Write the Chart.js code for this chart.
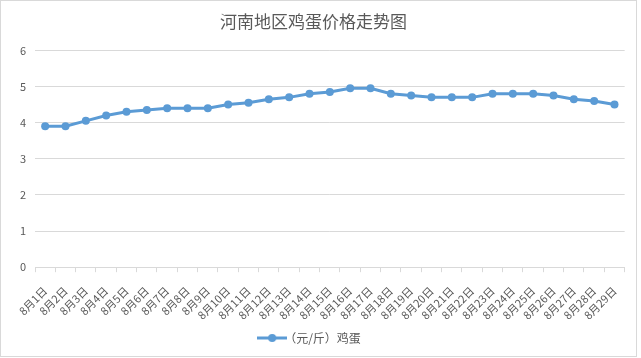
<!DOCTYPE html>
<html>
<head>
<meta charset="utf-8">
<script src="https://cdn.jsdelivr.net/npm/chart.js@4"></script>
<style>
    body { margin: 0; background: #fff; }
    #frame { position: absolute; left: 0; top: 0; width: 637px; height: 357px; box-sizing: border-box; border: 1px solid #d9d9d9; }
    #chart { display: block; }
</style>
</head>
<body>
<div id="frame"><canvas id="chart" width="635" height="355"></canvas></div>
<script>
const FONT = "'Noto Sans CJK SC', 'Noto Sans', sans-serif";
const TEXT_COLOR = "#595959";
const GRID_COLOR = "#d9d9d9";
const LINE_COLOR = "#5b9bd5";

const titleText = "河南地区鸡蛋价格走势图";
const seriesName = "（元/斤）鸡蛋";
const days = [];
for (let d = 1; d <= 29; d++) {
    days.push("8月" + d + "日");
}
const prices = [3.9, 3.9, 4.05, 4.2, 4.3, 4.35, 4.4, 4.4, 4.4, 4.5,
    4.55, 4.65, 4.7, 4.8, 4.85, 4.95, 4.95, 4.8, 4.75, 4.7,
    4.7, 4.7, 4.8, 4.8, 4.8, 4.75, 4.65, 4.6, 4.5];

// legend marker: short line with a dot, like the original
function legendMarker() {
    const c = document.createElement("canvas");
    c.width = 30;
    c.height = 10;
    const g = c.getContext("2d");
    g.strokeStyle = LINE_COLOR;
    g.lineWidth = 3;
    g.beginPath();
    g.moveTo(0, 5);
    g.lineTo(30, 5);
    g.stroke();
    g.fillStyle = LINE_COLOR;
    g.beginPath();
    g.arc(15, 5, 4, 0, Math.PI * 2);
    g.fill();
    return c;
}
const marker = legendMarker();

const ctx = document.getElementById("chart").getContext("2d");
new Chart(ctx, {
    type: "line",
    data: {
        labels: days,
        datasets: [{
            label: seriesName,
            data: prices,
            borderColor: LINE_COLOR,
            backgroundColor: LINE_COLOR,
            borderWidth: 3,
            pointRadius: 4,
            pointBackgroundColor: LINE_COLOR,
            pointBorderWidth: 0,
            tension: 0
        }]
    },
    options: {
        responsive: false,
        animation: false,
        layout: { padding: { left: 0, right: 10, top: 0, bottom: 2 } },
        plugins: {
            title: {
                display: true,
                text: titleText,
                color: TEXT_COLOR,
                font: { family: FONT, size: 17, weight: "normal" },
                padding: { top: 10, bottom: 19 }
            },
            legend: {
                position: "bottom",
                labels: {
                    color: TEXT_COLOR,
                    font: { family: FONT, size: 12 },
                    usePointStyle: true,
                    generateLabels: chart => {
                        const items = Chart.defaults.plugins.legend.labels.generateLabels(chart);
                        items.forEach(it => { it.pointStyle = marker; });
                        return items;
                    }
                }
            },
            tooltip: { enabled: false }
        },
        scales: {
            x: {
                offset: true,
                afterFit: s => { s.height -= 12; },
                grid: {
                    offset: true,
                    drawOnChartArea: false,
                    color: GRID_COLOR,
                    tickLength: 5
                },
                border: { display: true, color: GRID_COLOR },
                ticks: {
                    color: TEXT_COLOR,
                    font: { family: FONT, size: 11 },
                    minRotation: 45,
                    maxRotation: 45,
                    autoSkip: false,
                    padding: 12
                }
            },
            y: {
                min: 0,
                max: 6,
                afterFit: s => { s.width = 34; },
                grid: { color: GRID_COLOR, drawTicks: false },
                border: { display: false },
                ticks: {
                    stepSize: 1,
                    color: TEXT_COLOR,
                    font: { family: FONT, size: 11 },
                    padding: 9
                }
            }
        }
    }
});
</script>
</body>
</html>
